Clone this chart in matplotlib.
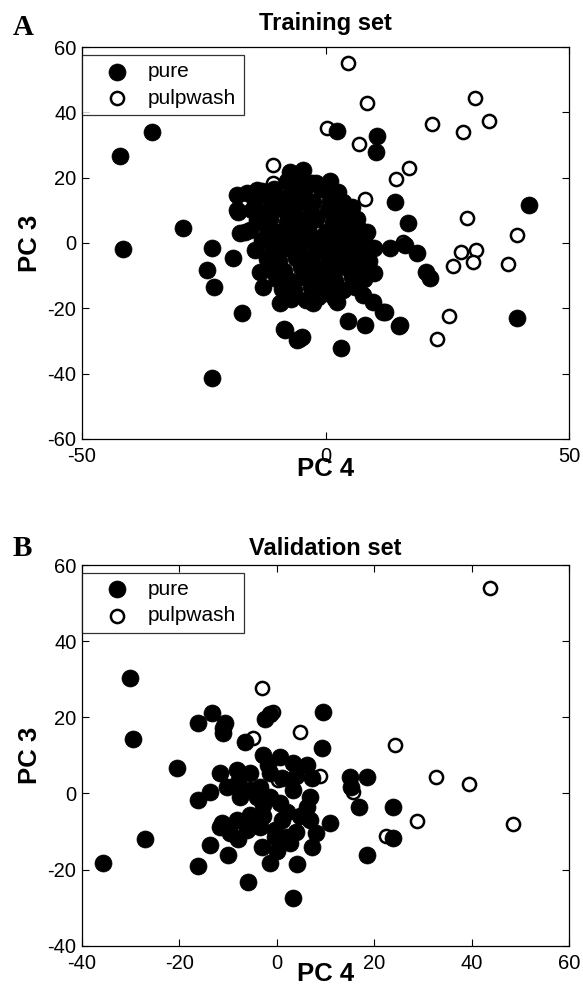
import matplotlib
matplotlib.use("Agg")
import matplotlib.pyplot as plt
import numpy as np

plt.rcParams['font.family'] = ['Liberation Sans', 'DejaVu Sans']
plt.rcParams['axes.unicode_minus'] = False

# ---------------- Training set data ----------------
train_pure_x = [-42.2, -35.6, -29.2, -41.5, -23.3, -24.3, -22.8, -17.1, -23.3, -8.5, -5.9,
                -18.2, -16.1, -18.2, -12.8, -17.6, 2.4, 10.5, 10.4, 14.3, 5.4, 17.0, 41.8,
                39.3, 20.6, 21.5, 18.8, 13.2, 16.3, 10.0, 11.8, 15.1, 8.1, 4.6, 3.2, -2.6,
                0.3, 2.4, 7.7, 9.8, -17.9, -16.5, -19.0, -13.4, -12.8, -9.3, -7.3, -4.6,
                -14.0, 0.9, 8.5, 7.1, 0.3, 12.2, 15.3, -4.8, -5.4, -8.3,
                # dense core
                -8.0, -5.0, -2.0, 1.0,
                -13.0, -10.5, -7.0, -4.5, -1.0, 2.5,
                -14.5, -11.0, -8.5, -5.0, -2.5, 1.0, 3.5,
                -15.0, -12.5, -9.0, -6.5, -3.0, 0.5, 3.0,
                -14.0, -11.5, -8.0, -5.5, -2.0, 1.5, 4.0, 6.5,
                -15.5, -12.0, -9.5, -6.0, -3.5, 0.0, 3.5, 6.0, 8.5,
                -13.0, -10.0, -7.5, -4.0, -1.5, 2.0, 5.0, 8.0,
                -14.5, -11.0, -8.0, -5.5, -2.0, 1.0, 4.5, 7.0, 10.0,
                -12.0, -9.5, -6.0, -3.0, 0.5, 3.0, 6.5, 9.0,
                -11.0, -8.5, -5.0, -2.0, 1.5, 4.0, 7.5,
                -10.0, -7.0, -4.5, -1.0, 2.0, 5.5, 8.0,
                -9.0, -6.5, -3.0, 0.0, 3.5, 6.0,
                -7.0, -4.0, -1.5, 2.0]
train_pure_y = [26.6, 34.0, 4.6, -1.8, -1.5, -8.3, -13.4, -21.4, -41.3, -26.4, -29.7,
                14.7, 15.3, 10.1, 15.3, 3.0, 34.3, 32.8, 27.9, 12.5, 11.0, 6.1, 11.6,
                -22.9, -8.9, -10.7, -3.0, -1.5, -0.6, -9.2, -21.0, -25.4, -25.0, -23.9, -32.1, -18.4,
                -15.3, -18.0, -15.9, -18.0, 9.5, 3.4, -4.6, -8.9, -13.5, -18.4, 21.7, 22.3,
                16.2, 15.3, -1.2, 4.0, -14.4, -21.0, -25.0, -28.8, -29.4, -26.6,
                19.0, 19.5, 18.5, 19.0,
                16.0, 16.5, 15.5, 16.0, 16.5, 15.5,
                13.0, 12.5, 13.5, 13.0, 12.5, 13.0, 12.5,
                10.0, 9.5, 10.5, 10.0, 9.5, 10.0, 10.5,
                7.0, 7.5, 6.5, 7.0, 7.5, 6.5, 7.0, 7.5,
                4.0, 4.5, 3.5, 4.0, 4.5, 3.5, 4.0, 4.5, 3.5,
                1.0, 1.5, 0.5, 1.0, 1.5, 0.5, 1.0, 1.5,
                -2.0, -2.5, -1.5, -2.0, -2.5, -1.5, -2.0, -2.5, -1.5,
                -5.0, -5.5, -4.5, -5.0, -5.5, -4.5, -5.0, -5.5,
                -8.0, -8.5, -7.5, -8.0, -8.5, -7.5, -8.0,
                -11.0, -11.5, -10.5, -11.0, -11.5, -10.5, -11.0,
                -14.0, -14.5, -13.5, -14.0, -14.5, -13.5,
                -17.0, -17.5, -16.5, -17.0]
train_pulp_x = [-10.8, 4.6, 8.5, 0.3, 6.9, 21.9, 30.7, 33.6, 28.3, 17.1, 14.5, 8.1, 29.0,
                39.3, 27.8, 30.9, 26.1, 30.3, 37.5, 25.4, 22.9, 15.9,
                -10.8, -5.6, -2.8, -6.9, -10.8, -6.9, -3.2]
train_pulp_y = [23.9, 55.0, 42.8, 35.3, 30.2, 36.4, 44.3, 37.3, 33.9, 22.9, 19.6, 13.5, 7.6,
                2.6, -2.8, -2.1, -7.0, -5.8, -6.4, -22.3, -29.4, 0.3,
                18.4, 18.7, 18.7, 3.0, -9.2, 12.2, 18.4]

# ---------------- Validation set data ----------------
val_pure_x = [-30.2, -2.4, -1.4, -16.2, -13.4, -10.7, -29.6, 9.4, -20.6, -27.1, -35.7, -16.2,
              -10.0, -6.0, -1.4, 3.3, 4.1, -16.2, -13.8, -11.7, -13.8, -11.7, -6.6, -11.0,
              -11.0, -2.9, -1.8, -8.2, -5.5, -3.5, -10.3, -7.6, -5.5, -11.3, -8.2, -5.5,
              -9.7, -6.2, -3.5, -0.4, -2.9, 9.2, 0.6, 3.3, 6.2, 7.2, -1.4, 3.3, 6.8, 6.2,
              4.7, -1.4, 0.6, -2.9, 2.1, 6.8, 10.9, -0.4, 2.7, 7.2, 15.0, 18.5, 16.8, 23.8,
              23.8, 18.5, 2.1, 1.0, 4.0, -8.0, -4.0, 1.0, 4.0, 8.0, -8.0, -3.0, 0.0, 15.2]
val_pure_y = [30.4, 19.6, 20.8, 18.5, 21.2, 18.5, 14.2, 21.5, 6.8, -11.9, -18.2, -19.0,
              -16.1, -23.2, -18.2, -27.4, -18.5, -1.7, 0.4, 5.4, -13.5, -8.8, 13.6, 15.9,
              17.3, 10.2, 7.6, 6.2, 5.4, 1.8, 1.8, -0.9, 1.0, -7.7, -7.0, -5.6,
              -10.3, -9.5, -8.8, -11.4, -3.0, 12.0, 9.7, 8.1, 7.6, 4.1, 5.4, 1.0, -0.9, -3.5,
              -6.0, -0.9, -2.4, -6.0, -5.0, -7.0, -7.8, -9.5, -13.0, -14.0, 4.4, 4.4, -3.5, -3.5,
              -11.6, -16.1, -11.4, 4.0, 4.5, 3.0, -1.0, -7.0, -10.0, -10.5, -12.0, -14.0, -15.0, 1.8]
val_pulp_x = [-3.1, -0.8, 4.7, 43.7, -4.9, 0.2, 8.8, 24.2, 32.6, 39.4, 28.7, 48.5, 22.4, 15.6]
val_pulp_y = [27.7, 21.3, 16.2, 54.0, 14.6, 3.6, 4.7, 12.8, 4.4, 2.5, -7.3, -8.0, -11.1, 0.5]

panels = [
    dict(label='A', title='Training set', px=train_pure_x, py=train_pure_y,
         ox=train_pulp_x, oy=train_pulp_y, xlim=(-50, 50), ylim=(-60, 60),
         xticks=[-50, 0, 50], yticks=[-60, -40, -20, 0, 20, 40, 60],
         tpad=12, xlpad=-7, lab_dy=0.0122),
    dict(label='B', title='Validation set', px=val_pure_x, py=val_pure_y,
         ox=val_pulp_x, oy=val_pulp_y, xlim=(-40, 60), ylim=(-40, 60),
         xticks=[-40, -20, 0, 20, 40, 60], yticks=[-40, -20, 0, 20, 40, 60],
         tpad=7.5, xlpad=-8, lab_dy=0.0092),
]

fig = plt.figure(figsize=(5.83, 9.84), dpi=100)
rects = [[0.1407, 0.5539, 0.8353, 0.3983], [0.1407, 0.0389, 0.8353, 0.3869]]

for rect, p in zip(rects, panels):
    ax = fig.add_axes(rect)
    ax.scatter(p['px'], p['py'], s=150, c='black', edgecolors='black', linewidths=0.5,
               zorder=3, label='pure')
    ax.scatter(p['ox'], p['oy'], s=90, facecolors='white', edgecolors='black',
               linewidths=1.8, zorder=2, label='pulpwash')
    ax.set_xlim(*p['xlim'])
    ax.set_ylim(*p['ylim'])
    ax.set_xticks(p['xticks'])
    ax.set_yticks(p['yticks'])
    ax.tick_params(direction='in', top=True, right=True, length=5, width=0.8,
                   labelsize=14.5)
    ax.tick_params(axis='x', pad=6)
    ax.tick_params(axis='y', pad=4)
    for s in ax.spines.values():
        s.set_linewidth(0.9)
    ax.set_title(p['title'], fontsize=17, fontweight='bold', pad=p['tpad'])
    ax.set_xlabel('PC 4', fontsize=18.5, fontweight='bold', labelpad=p['xlpad'])
    ax.set_ylabel('PC 3', fontsize=18.5, fontweight='bold', labelpad=4)
    leg = ax.legend(loc='upper left', bbox_to_anchor=(0.0, 0.98), borderaxespad=0.0,
                    fontsize=15, frameon=True, fancybox=False, edgecolor='black',
                    handlelength=2.66, handletextpad=0.16, borderpad=0.35,
                    labelspacing=0.36, scatterpoints=1)
    leg.get_frame().set_linewidth(0.9)
    fig.text(0.022, rect[1] + rect[3] + p['lab_dy'], p['label'], fontsize=21,
             fontweight='bold', family='Liberation Serif', ha='left', va='baseline')

fig.savefig('out.png', dpi=100)
